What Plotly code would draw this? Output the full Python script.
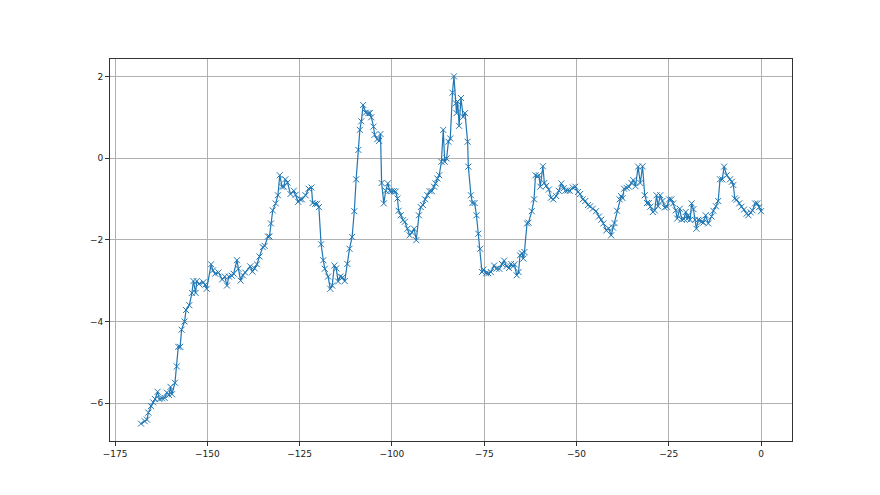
import plotly.graph_objects as go

x_values = [
    -168.0, -167.0, -166.4, -166.0, -165.3, -164.7, -164.2, -163.5, -163.0, -162.3,
    -161.6, -161.0, -160.4, -160.0, -159.6, -158.8, -158.3, -157.9, -157.4, -157.0,
    -156.2, -155.8, -154.9, -154.2, -153.8, -153.2, -152.9, -152.3, -151.1, -150.6,
    -150.2, -149.0, -148.5, -147.9, -147.0, -146.0, -145.3, -144.7, -144.2, -143.4,
    -142.9, -142.0, -141.6, -141.0, -140.4, -139.8, -138.4, -137.8, -137.2, -136.6,
    -135.9, -135.0, -134.5, -133.6, -133.2, -132.8, -132.3, -131.5, -130.9, -130.4,
    -129.8, -129.3, -128.9, -128.3, -127.5, -126.6, -126.1, -125.4, -124.9, -124.4,
    -123.4, -122.6, -121.8, -121.5, -120.8, -120.3, -119.8, -119.2, -118.6, -118.2,
    -117.3, -116.7, -116.2, -115.6, -115.1, -114.6, -114.0, -113.4, -112.8, -112.1,
    -111.5, -110.8, -110.2, -109.7, -109.1, -108.7, -108.3, -107.8, -107.1, -106.4,
    -106.0, -105.6, -105.0, -104.7, -104.0, -103.5, -103.1, -102.8, -102.2, -101.7,
    -101.1, -100.6, -100.1, -99.5, -99.0, -98.5, -98.2, -97.6, -97.0, -96.5,
    -95.8, -95.2, -94.6, -94.0, -93.4, -92.7, -92.2, -91.6, -91.0, -90.4,
    -89.8, -89.2, -88.6, -88.2, -87.7, -87.2, -86.6, -86.1, -85.7, -85.2,
    -84.7, -84.2, -83.6, -83.2, -82.7, -82.5, -82.2, -81.8, -81.3, -80.7,
    -80.2, -79.5, -79.3, -78.6, -78.2, -77.6, -77.1, -76.6, -76.1, -75.6,
    -75.2, -74.5, -73.9, -73.2, -72.3, -71.7, -70.9, -70.2, -69.6, -69.0,
    -68.3, -67.7, -67.2, -66.8, -66.2, -65.7, -65.3, -64.8, -64.4, -64.1,
    -63.4, -63.0, -62.1, -61.5, -61.1, -60.6, -60.2, -59.8, -59.1, -58.7,
    -58.2, -57.5, -56.9, -56.3, -55.5, -54.8, -54.1, -53.5, -53.0, -52.4,
    -51.8, -51.0, -50.3, -49.6, -49.0, -48.3, -47.6, -46.9, -46.3, -45.6,
    -44.7, -43.9, -43.3, -42.7, -41.9, -41.3, -40.6, -40.1, -39.7, -39.0,
    -38.3, -37.9, -37.5, -37.1, -36.4, -35.8, -35.1, -34.6, -34.0, -33.3,
    -32.7, -32.1, -31.5, -30.9, -30.4, -30.0, -29.3, -28.8, -28.3, -27.9,
    -27.3, -26.7, -26.1, -25.5, -24.9, -24.3, -23.8, -23.1, -22.7, -22.0,
    -21.5, -20.9, -20.4, -20.0, -19.7, -19.2, -18.8, -18.3, -17.9, -17.5,
    -17.0, -16.6, -16.1, -15.6, -15.0, -14.3, -13.4, -12.9, -12.2, -11.6,
    -11.1, -10.5, -10.0, -9.3, -8.4, -7.9, -7.5, -7.1, -6.6, -5.9,
    -5.3, -4.6, -3.9, -3.4, -2.8, -2.3, -1.6, -1.0, -0.5, 0.0,
]

y_values = [
    -6.50, -6.44, -6.40, -6.23, -6.07, -5.98, -5.90, -5.72, -5.90, -5.88,
    -5.87, -5.74, -5.80, -5.60, -5.78, -5.50, -5.10, -4.62, -4.62, -4.20,
    -4.00, -3.72, -3.60, -3.30, -3.01, -3.30, -3.01, -3.08, -3.04, -3.10,
    -3.20, -2.60, -2.75, -2.83, -2.80, -2.97, -2.90, -3.12, -2.90, -2.88,
    -2.83, -2.50, -2.71, -3.00, -2.87, -2.80, -2.65, -2.78, -2.70, -2.60,
    -2.41, -2.18, -2.15, -1.92, -1.92, -1.60, -1.28, -1.11, -0.91, -0.42,
    -0.70, -0.70, -0.52, -0.60, -0.88, -0.80, -0.90, -1.07, -1.01, -1.01,
    -0.91, -0.75, -0.72, -1.10, -1.12, -1.12, -1.20, -2.11, -2.50, -2.71,
    -2.90, -3.20, -3.12, -2.63, -2.70, -3.02, -2.90, -2.92, -3.01, -2.59,
    -2.22, -1.93, -1.30, -0.52, 0.20, 0.69, 0.90, 1.30, 1.11, 1.10,
    1.10, 1.00, 0.77, 0.57, 0.46, 0.42, 0.59, -0.61, -1.11, -0.80,
    -0.62, -0.80, -0.81, -0.81, -0.82, -0.99, -1.29, -1.40, -1.52, -1.56,
    -1.73, -1.89, -1.82, -1.73, -2.01, -1.40, -1.20, -1.15, -1.01, -0.91,
    -0.81, -0.81, -0.70, -0.62, -0.50, -0.42, -0.09, 0.69, -0.09, -0.01,
    0.40, 0.48, 1.60, 2.00, 1.34, 1.10, 1.38, 0.79, 1.47, 1.01,
    1.10, 0.40, -0.21, -0.91, -1.10, -1.10, -1.40, -1.85, -2.22, -2.79,
    -2.73, -2.82, -2.82, -2.79, -2.63, -2.71, -2.71, -2.59, -2.51, -2.65,
    -2.69, -2.59, -2.65, -2.60, -2.87, -2.79, -2.38, -2.33, -2.46, -2.30,
    -1.60, -1.58, -1.30, -1.01, -0.42, -0.45, -0.42, -0.70, -0.20, -0.61,
    -0.68, -0.77, -0.97, -1.01, -0.93, -0.80, -0.62, -0.74, -0.80, -0.79,
    -0.80, -0.72, -0.70, -0.83, -0.88, -1.01, -1.05, -1.15, -1.18, -1.24,
    -1.30, -1.43, -1.51, -1.60, -1.77, -1.72, -1.89, -1.70, -1.59, -1.29,
    -1.01, -0.93, -0.98, -0.75, -0.73, -0.70, -0.61, -0.54, -0.69, -0.21,
    -0.61, -0.20, -0.91, -1.10, -1.10, -1.19, -1.32, -1.28, -0.91, -1.18,
    -0.91, -1.05, -1.21, -1.19, -1.01, -1.01, -1.11, -1.28, -1.48, -1.24,
    -1.51, -1.49, -1.32, -1.49, -1.40, -1.51, -1.11, -1.25, -1.51, -1.73,
    -1.51, -1.53, -1.56, -1.58, -1.40, -1.60, -1.43, -1.29, -1.18, -1.05,
    -0.52, -0.52, -0.21, -0.42, -0.52, -0.58, -0.66, -0.99, -1.02, -1.11,
    -1.19, -1.26, -1.36, -1.40, -1.33, -1.28, -1.11, -1.11, -1.20, -1.30,
]

x_ticks = [-175, -150, -125, -100, -75, -50, -25, 0]
y_ticks = [-6, -4, -2, 0, 2]

fig = go.Figure()
fig.add_trace(go.Scatter(
    x=x_values, y=y_values, mode="lines+markers",
    line=dict(color="#1f77b4", width=1.2),
    marker=dict(symbol="x-thin", size=6, color="#1f77b4",
                line=dict(color="#1f77b4", width=1)),
    showlegend=False,
))

axis_common = dict(
    showgrid=True, gridcolor="#b0b0b0", gridwidth=0.8,
    zeroline=False, showline=True, linecolor="#333333", linewidth=1,
    mirror=True, ticks="outside", ticklen=4, tickcolor="#333333",
    tickfont=dict(family="DejaVu Sans", size=9, color="#222222"),
)

fig.update_layout(
    width=880, height=495,
    margin=dict(l=102, r=96, t=51, b=62),
    paper_bgcolor="white", plot_bgcolor="white",
    xaxis=dict(range=[-176.4, 8.4], tickvals=x_ticks, **axis_common),
    yaxis=dict(range=[-6.925, 2.425], tickvals=y_ticks, **axis_common),
)

fig.write_html("out.html")
